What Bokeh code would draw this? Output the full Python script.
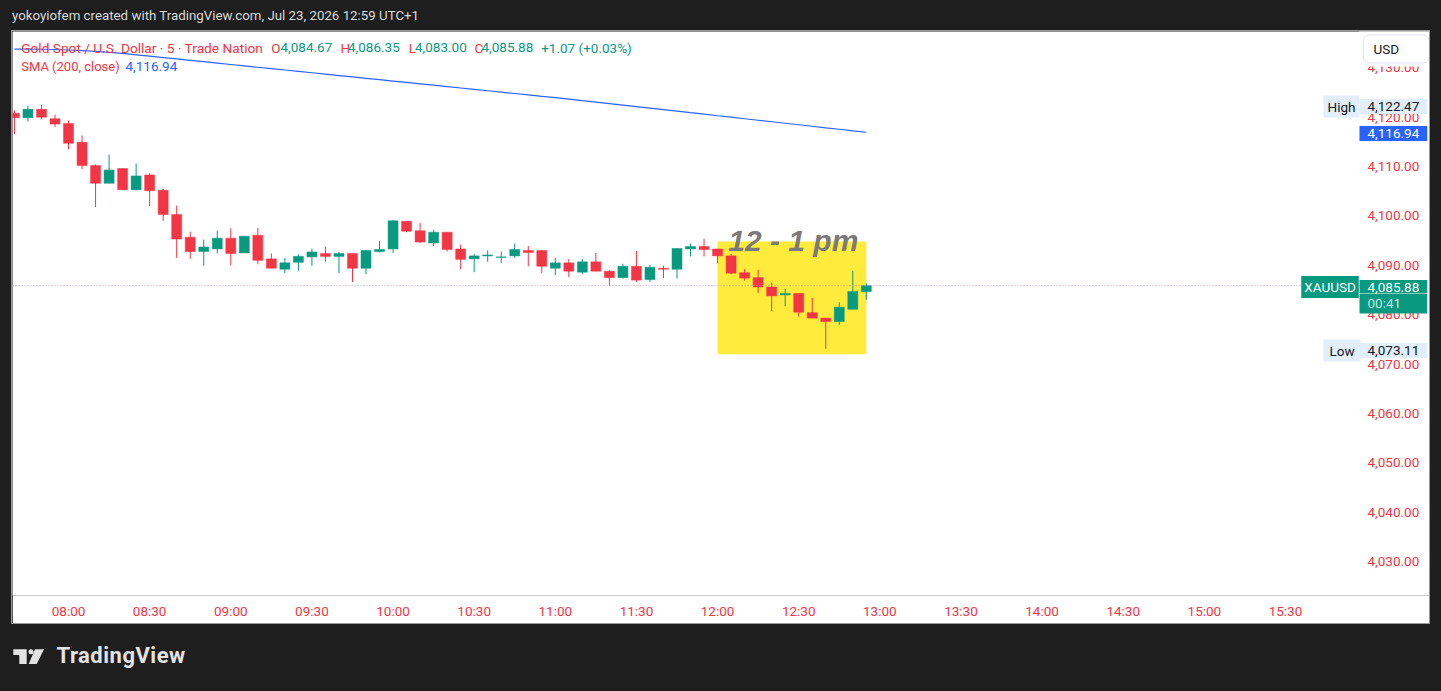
import pandas as pd
from bokeh.plotting import figure
from bokeh.models import (Range1d, Label, Span, FixedTicker, DatetimeTickFormatter,
                          NumeralTickFormatter, Div, ColumnDataSource, GlobalInlineStyleSheet)
from bokeh.layouts import column
from bokeh.embed import file_html
from bokeh.resources import INLINE

# ---------------- data ----------------
DAY = "2026-07-23"
times = ["07:40", "07:45", "07:50", "07:55", "08:00", "08:05", "08:10", "08:15",
         "08:20", "08:25", "08:30", "08:35", "08:40", "08:45", "08:50", "08:55",
         "09:00", "09:05", "09:10", "09:15", "09:20", "09:25", "09:30", "09:35",
         "09:40", "09:45", "09:50", "09:55", "10:00", "10:05", "10:10", "10:15",
         "10:20", "10:25", "10:30", "10:35", "10:40", "10:45", "10:50", "10:55",
         "11:00", "11:05", "11:10", "11:15", "11:20", "11:25", "11:30", "11:35",
         "11:40", "11:45", "11:50", "11:55", "12:00", "12:05", "12:10", "12:15",
         "12:20", "12:25", "12:30", "12:35", "12:40", "12:45", "12:50", "12:55"]
opens = [4120.8, 4119.9, 4121.6, 4119.7, 4118.7, 4114.9, 4110.2, 4106.6,
         4109.6, 4105.3, 4108.3, 4105.2, 4100.3, 4095.7, 4092.8, 4093.3,
         4095.5, 4092.5, 4096.1, 4091.3, 4089.2, 4090.6, 4091.7, 4092.4,
         4091.8, 4092.4, 4089.4, 4092.8, 4093.3, 4098.9, 4097.0, 4094.5,
         4096.7, 4093.3, 4091.3, 4091.9, 4091.6, 4091.9, 4093.0, 4093.0,
         4089.4, 4090.5, 4088.6, 4090.7, 4088.8, 4087.5, 4089.8, 4087.1,
         4089.4, 4089.2, 4093.3, 4093.8, 4093.3, 4091.9, 4088.5, 4087.5,
         4085.6, 4084.0, 4084.3, 4080.4, 4079.3, 4078.6, 4081.1, 4084.67]
highs = [4121.4, 4122.3, 4122.47, 4120.5, 4119.3, 4116.3, 4110.4, 4112.4,
         4109.6, 4110.6, 4108.6, 4105.5, 4102.1, 4096.8, 4095.2, 4097.0,
         4097.5, 4095.9, 4097.6, 4092.4, 4091.5, 4092.2, 4093.4, 4093.8,
         4092.7, 4092.4, 4093.0, 4094.9, 4099.2, 4098.9, 4098.6, 4097.2,
         4096.7, 4094.2, 4092.3, 4093.0, 4092.8, 4094.4, 4093.9, 4093.0,
         4091.5, 4091.3, 4091.3, 4092.5, 4089.0, 4090.3, 4092.9, 4090.1,
         4089.9, 4093.4, 4094.4, 4095.4, 4093.3, 4092.3, 4089.2, 4089.1,
         4086.5, 4085.2, 4084.3, 4083.4, 4079.3, 4082.5, 4088.9, 4086.35]
lows = [4116.6, 4119.1, 4119.7, 4118.0, 4113.5, 4109.5, 4101.8, 4106.6,
        4105.3, 4105.3, 4102.0, 4099.0, 4091.5, 4091.3, 4089.9, 4092.4,
        4090.0, 4092.5, 4090.2, 4089.4, 4088.4, 4088.9, 4089.9, 4090.7,
        4088.4, 4086.6, 4088.2, 4092.6, 4092.5, 4096.7, 4094.5, 4093.9,
        4092.8, 4089.2, 4088.6, 4090.7, 4090.5, 4091.5, 4089.8, 4088.4,
        4088.0, 4087.6, 4088.2, 4088.8, 4085.9, 4087.3, 4086.6, 4086.6,
        4087.4, 4087.3, 4091.8, 4091.8, 4090.4, 4088.2, 4086.9, 4084.4,
        4080.7, 4081.7, 4079.6, 4079.3, 4073.11, 4077.9, 4081.1, 4083.00]
closes = [4119.9, 4121.6, 4120.0, 4118.6, 4114.7, 4110.2, 4106.6, 4109.3,
          4105.3, 4108.1, 4105.1, 4100.3, 4095.3, 4092.8, 4093.7, 4095.5,
          4092.4, 4095.9, 4091.0, 4089.4, 4090.5, 4091.8, 4092.7, 4091.8,
          4092.4, 4089.4, 4093.0, 4093.2, 4099.0, 4096.9, 4094.7, 4096.7,
          4093.2, 4091.2, 4091.9, 4092.1, 4091.7, 4093.2, 4092.6, 4089.8,
          4090.5, 4088.8, 4090.7, 4088.8, 4087.5, 4089.8, 4087.0, 4089.6,
          4089.2, 4093.4, 4093.8, 4093.2, 4091.9, 4088.4, 4087.4, 4085.6,
          4083.8, 4084.3, 4080.5, 4079.3, 4078.6, 4081.5, 4084.67, 4085.88]
sma200 = [4133.80, 4133.80, 4133.75, 4133.70, 4133.60, 4133.48, 4133.33, 4133.13,
          4132.90, 4132.63, 4132.35, 4132.07, 4131.79, 4131.51, 4131.23, 4130.95,
          4130.67, 4130.39, 4130.11, 4129.83, 4129.55, 4129.27, 4128.99, 4128.71,
          4128.43, 4128.15, 4127.87, 4127.59, 4127.31, 4127.03, 4126.75, 4126.47,
          4126.19, 4125.91, 4125.63, 4125.35, 4125.07, 4124.79, 4124.51, 4124.23,
          4123.95, 4123.65, 4123.34, 4123.04, 4122.73, 4122.43, 4122.12, 4121.82,
          4121.51, 4121.21, 4120.90, 4120.60, 4120.29, 4119.99, 4119.68, 4119.38,
          4119.07, 4118.77, 4118.46, 4118.16, 4117.85, 4117.55, 4117.24, 4116.94]
time_tick_labels = ["08:00", "08:30", "09:00", "09:30", "10:00", "10:30", "11:00", "11:30",
                    "12:00", "12:30", "13:00", "13:30", "14:00", "14:30", "15:00", "15:30"]
price_ticks = [4030, 4040, 4050, 4060, 4070, 4080, 4090, 4100, 4110, 4120, 4130]
last_price = 4085.88
session_high = 4122.47
session_low = 4073.11
sma_last = 4116.94
countdown = "00:41"
hl_start, hl_end = "12:00", "12:55"
hl_top, hl_bottom = 4094.8, 4072.0
hl_text = "12 - 1 pm"

RED = "#f23645"
GREEN = "#089981"
BLUE = "#2962ff"
BG = "#1e1e1e"
FONT = "Roboto"


def ms(hhmm):
    return pd.Timestamp(f"{DAY} {hhmm}").value / 1e6


# visible window (frame covers the whole white panel, price scale drawn inside it)
X0, X1 = ms("07:39:17"), ms("16:23:15")
Y0, Y1 = 4023.12, 4137.35
FR_L, FR_T, FR_W, FR_H = 12, 31, 1417, 564   # frame position on page


def px_x(px):
    return X0 + (X1 - X0) * (px - FR_L) / FR_W


def px_y(py):
    return Y1 - (Y1 - Y0) * (py - FR_T) / FR_H


tms = [ms(t) for t in times]
src = ColumnDataSource(dict(
    t=tms, o=opens, h=highs, l=lows, c=closes,
    top=[max(o, c) for o, c in zip(opens, closes)],
    bottom=[min(o, c) for o, c in zip(opens, closes)],
    color=[GREEN if c >= o else RED for o, c in zip(opens, closes)],
))

p = figure(width=1417, height=592, x_axis_type="datetime", y_axis_location="right",
           x_range=Range1d(X0, X1), y_range=Range1d(Y0, Y1),
           output_backend="svg", toolbar_location=None,
           min_border_left=0, min_border_top=0, min_border_right=0, min_border_bottom=28,
           background_fill_color="white", border_fill_color="white",
           margin=(0, 4, 0, 4), styles={"outline": "1px solid #9a9a9a"})
p.outline_line_color = None
p.xgrid.grid_line_color = None
p.ygrid.grid_line_color = None

# axes
p.yaxis.ticker = FixedTicker(ticks=price_ticks)
p.yaxis.formatter = NumeralTickFormatter(format="0,0.00")
p.yaxis.fixed_location = px_x(1358)
p.xaxis.ticker = FixedTicker(ticks=[ms(t) for t in time_tick_labels])
p.xaxis.formatter = DatetimeTickFormatter(minsec="%H:%M", minutes="%H:%M", hourmin="%H:%M",
                                          hours="%H:%M", days="%H:%M")
for ax in (p.xaxis, p.yaxis):
    ax.axis_line_color = None
    ax.major_tick_line_color = None
    ax.minor_tick_line_color = None
    ax.major_tick_in = 0
    ax.major_tick_out = 0
    ax.major_label_text_color = RED
    ax.major_label_text_font = FONT
    ax.major_label_text_font_size = "13.5px"
p.yaxis.major_label_standoff = 9
p.xaxis.major_label_standoff = 7

# highlight box
p.quad(left=[ms(hl_start)], right=[ms(hl_end)], top=[hl_top], bottom=[hl_bottom],
       fill_color="#ffeb3b", line_color=None)

# SMA
p.line(tms, sma200, line_color=BLUE, line_width=1.2)

# candles
p.segment(x0="t", y0="l", x1="t", y1="h", line_color="color", line_width=1, source=src)
p.vbar(x="t", width=222000, top="top", bottom="bottom", fill_color="color",
       line_color="color", line_width=0.5, source=src)

# last price dotted line
p.add_layout(Span(location=last_price, dimension="width", line_color="#f4909b",
                  line_width=1, line_dash="1 5", line_dash_offset=0))
p.add_layout(Span(location=last_price, dimension="width", line_color="#8a9ef3",
                  line_width=1, line_dash="1 5", line_dash_offset=3))


def lab(text, px, py, color, align="left", size="13.5px", font=FONT, style="normal", **kw):
    p.add_layout(Label(x=px_x(px), y=px_y(py), text=text, text_color=color,
                       text_align=align, text_baseline="middle", text_font=font,
                       text_font_size=size, text_font_style=style, **kw))


# highlight caption
p.add_layout(Label(x=(ms(hl_start) + ms(hl_end)) / 2 + 30000, y=px_y(240), text=hl_text,
                   text_color="#7a7a7a", text_align="center", text_baseline="middle",
                   text_font="Liberation Sans", text_font_size="30px",
                   text_font_style="bold italic"))

# legend text
lab("Gold Spot / U.S. Dollar · 5 · Trade Nation", 20.7, 47, RED, size="13.7px")
lab("O", 270.7, 47, RED)
lab(f"{opens[-1]:,.2f}", 280, 47, GREEN)
lab("H", 340, 47, RED)
lab(f"{highs[-1]:,.2f}", 347.5, 47, GREEN)
lab("L", 408.3, 47, RED)
lab(f"{lows[-1]:,.2f}", 414.5, 47, GREEN)
lab("C", 474, 47, RED)
lab(f"{closes[-1]:,.2f}", 481, 47, GREEN)
lab("+1.07 (+0.03%)", 540.7, 47, GREEN)
lab("SMA (200, close)", 20.7, 65.7, RED, size="13px")
lab(f"{sma_last:,.2f}", 125, 65.7, BLUE)

# price-scale badges (x = left edge of the badge box)
PAD = dict(left=8, right=8, top=3, bottom=3)
lab(" ", 1359, 48, "white", background_fill_color="white",
    padding=dict(left=34, right=35, top=10, bottom=10))
lab("USD", 1363, 48.5, "#131722", background_fill_color="white",
    border_line_color="#e0e3eb", border_radius=6,
    padding=dict(left=10, right=30, top=6, bottom=6))
lab("High", 1341, 106, "#131722", align="center", background_fill_color="#e3eefb",
    padding=dict(left=4, right=4, top=3, bottom=3))
lab(f"{session_high:,.2f}", 1359, 106, "#131722", background_fill_color="#e3eefb",
    padding=PAD)
lab(f"{sma_last:,.2f}", 1359, 133, "white", background_fill_color=BLUE, padding=PAD)
lab("XAUUSD", 1329.5, 286.5, "white", align="center", background_fill_color=GREEN,
    padding=dict(left=3, right=3, top=3, bottom=3))
lab(countdown, 1359, 303, "#c6e8e0", background_fill_color=GREEN,
    padding=dict(left=8, right=26, top=1, bottom=3))
lab(f"{last_price:,.2f}", 1359, 286, "white", background_fill_color=GREEN,
    padding=dict(left=8, right=8, top=3, bottom=1))
lab("Low", 1341.5, 350, "#131722", align="center", background_fill_color="#e3eefb",
    padding=dict(left=6, right=6, top=3, bottom=3))
lab(f"{session_low:,.2f}", 1359, 350, "#131722", background_fill_color="#e3eefb",
    padding=PAD)

header = Div(text=('<div style="padding:0 0 0 4px;margin:0;font-family:Roboto;font-size:13.3px;'
                   'line-height:14px;color:#dadada;white-space:nowrap">'
                   'yokoyiofem created with TradingView.com, Jul 23, 2026 12:59 UTC+1</div>'),
             width=1425, height=23, margin=0)

logo_html = (
    '<div style="position:relative;width:1425px;height:60px;margin:0;padding:0">'
    '<svg style="position:absolute;left:5px;top:26px" width="34" height="16" viewBox="0 0 34 16">'
    '<path d="M0.3 0.3 H13.7 V15 H6.3 V6 H0.3 Z" fill="#e3e3e3"/>'
    '<circle cx="18" cy="2.7" r="2.5" fill="#e3e3e3"/>'
    '<path d="M22 0.3 H31 L23.7 15 H15.7 Z" fill="#e3e3e3"/>'
    '</svg>'
    '<span style="position:absolute;left:48.5px;top:22px;font-family:Roboto;font-weight:bold;'
    'font-size:22px;line-height:22px;letter-spacing:0.5px;color:#e3e3e3;white-space:nowrap">'
    'TradingView</span>'
    '</div>')
logo = Div(text=logo_html, width=1425, height=60, margin=0)

layout = column(header, p, logo, spacing=0, margin=(8, 0, 0, 8),
                styles={"background-color": BG},
                stylesheets=[GlobalInlineStyleSheet(css="html, body {background-color: #1e1e1e;}")])

open("out.html", "w").write(file_html(layout, INLINE))
